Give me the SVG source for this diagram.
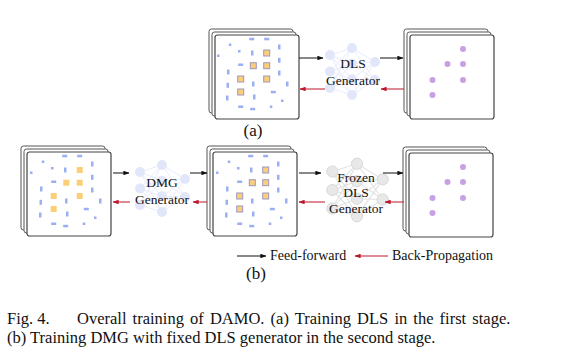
<svg xmlns="http://www.w3.org/2000/svg" xmlns:xlink="http://www.w3.org/1999/xlink" width="567" height="359" viewBox="0 0 567 359">
<style>
text{font-family:"Liberation Serif","Times New Roman",serif;fill:#111}
.lbl{font-size:13.5px;text-anchor:middle}
.frm{fill:#fff;stroke:#555;stroke-width:1}
.ffrm{fill:#fff;stroke:#444;stroke-width:1.2}
.bl{fill:#9bb0f2}
.or{fill:#fbcf78;stroke:#9d97c4;stroke-width:1}
.or2{fill:#fbcf78}
.pu{fill:#c8a0e4}
.fw{stroke:#111;stroke-width:1;fill:none;marker-end:url(#ab)}
.bp{stroke:#c0142a;stroke-width:1;fill:none;marker-end:url(#ar)}
.nl{stroke:#e9ecfb;stroke-width:1}
.nc{fill:#e2e6f9}
.fl{stroke:#e2e2e2;stroke-width:1}
.fc{fill:#e8e8e8;stroke:#d4d4d4;stroke-width:0.8}
</style>
<defs>
<marker id="ab" viewBox="0 0 8 6" refX="7.5" refY="3" markerWidth="6" markerHeight="4.5" markerUnits="userSpaceOnUse" orient="auto"><path d="M0,0L8,3L0,6z" fill="#111"/></marker>
<marker id="ar" viewBox="0 0 8 6" refX="7.5" refY="3" markerWidth="6" markerHeight="4.5" markerUnits="userSpaceOnUse" orient="auto"><path d="M0,0L8,3L0,6z" fill="#c0142a"/></marker>
<g id="stack">
<rect class="frm" x="-6" y="-6" width="84" height="84" rx="2.5"/>
<rect class="frm" x="-3" y="-3" width="84" height="84" rx="2.5"/>
<rect class="ffrm" x="0" y="0" width="84" height="84" rx="2.5"/>
</g>
<g id="dashes">
<rect class="bl" x="34.2" y="2.8" width="5" height="2.5"/>
<rect class="bl" x="49.2" y="2.8" width="5" height="2.5"/>
<rect class="bl" x="23.2" y="28.5" width="5" height="2.5"/>
<rect class="bl" x="55.8" y="55.8" width="5" height="2.5"/>
<rect class="bl" x="23.2" y="70.5" width="5" height="2.5"/>
<rect class="bl" x="35.2" y="72.8" width="5" height="2.5"/>
<rect class="bl" x="63" y="9.5" width="2.5" height="5"/>
<rect class="bl" x="36" y="15.5" width="2.5" height="5"/>
<rect class="bl" x="63" y="22.8" width="2.5" height="5"/>
<rect class="bl" x="12" y="34.5" width="2.5" height="5"/>
<rect class="bl" x="63" y="35.5" width="2.5" height="5"/>
<rect class="bl" x="37" y="46.5" width="2.5" height="5"/>
<rect class="bl" x="71" y="46.5" width="2.5" height="5"/>
<rect class="bl" x="11.5" y="47.8" width="2.5" height="5"/>
<rect class="bl" x="38" y="59.5" width="2.5" height="5"/>
<rect class="bl" x="11" y="60.5" width="2.5" height="5"/>
<rect class="bl" x="13.8" y="8.5" width="2.5" height="2.5"/>
<rect class="bl" x="23" y="15" width="2.5" height="2.5"/>
<rect class="bl" x="2" y="19.5" width="2.5" height="2.5"/>
<rect class="bl" x="66" y="64.5" width="2.5" height="2.5"/>
<rect class="bl" x="54.8" y="70.5" width="2.5" height="2.5"/>
</g>
<g id="sq">
<rect x="48.7" y="15" width="6" height="6"/>
<rect x="35.3" y="27.7" width="6" height="6"/>
<rect x="48.7" y="27.7" width="6" height="6"/>
<rect x="22.7" y="41" width="6" height="6"/>
<rect x="48.7" y="41" width="6" height="6"/>
<rect x="22.7" y="54" width="6" height="6"/>
</g>
<g id="dots">
<circle cx="54" cy="14" r="3"/>
<circle cx="38.5" cy="29" r="3"/>
<circle cx="54" cy="29" r="3"/>
<circle cx="23.5" cy="45" r="3"/>
<circle cx="54" cy="45" r="3"/>
<circle cx="23.5" cy="60" r="3"/>
</g>
<path id="nlines" d="M-22,-16.5L0,-23.5M-22,-16.5L0,-7.8M-22,-16.5L0,7.8M-22,-16.5L0,23.5M-22,0L0,-23.5M-22,0L0,-7.8M-22,0L0,7.8M-22,0L0,23.5M-22,16.5L0,-23.5M-22,16.5L0,-7.8M-22,16.5L0,7.8M-22,16.5L0,23.5M0,-23.5L23,-9.5M0,-7.8L23,-9.5M0,7.8L23,-9.5M0,23.5L23,-9.5M0,-23.5L23,8.5M0,-7.8L23,8.5M0,7.8L23,8.5M0,23.5L23,8.5"/>
<g id="ncirc">
<circle cx="-22" cy="-16.5" r="5"/><circle cx="-22" cy="0" r="5"/><circle cx="-22" cy="16.5" r="5"/>
<circle cx="0" cy="-23.5" r="5"/><circle cx="0" cy="-7.8" r="5"/><circle cx="0" cy="7.8" r="5"/><circle cx="0" cy="23.5" r="5"/>
<circle cx="23" cy="-9.5" r="5"/><circle cx="23" cy="8.5" r="5"/>
</g>
</defs>

<g id="a-input">
<use xlink:href="#stack" x="215" y="35"/>
<use xlink:href="#dashes" x="215" y="35"/>
<use xlink:href="#sq" x="215" y="35" class="or"/>
</g>
<g id="a-dls-generator">
<use xlink:href="#nlines" x="352" y="71.5" class="nl"/>
<use xlink:href="#ncirc" x="352" y="71.5" class="nc"/>
<text class="lbl" x="353" y="68">DLS</text>
<text class="lbl" x="353" y="85">Generator</text>
</g>
<g id="a-output">
<use xlink:href="#stack" x="410" y="35"/>
<use xlink:href="#dots" x="409" y="35" class="pu"/>
</g>
<text x="253" y="136" font-size="17" text-anchor="middle">(a)</text>

<g id="b-input">
<use xlink:href="#stack" x="27" y="152"/>
<use xlink:href="#dashes" x="28" y="152"/>
<use xlink:href="#sq" x="28" y="152" class="or2"/>
</g>
<g id="b-dmg-generator">
<use xlink:href="#nlines" x="162" y="188.5" class="nl"/>
<use xlink:href="#ncirc" x="162" y="188.5" class="nc"/>
<text class="lbl" x="162" y="187">DMG</text>
<text class="lbl" x="162" y="204">Generator</text>
</g>
<g id="b-middle">
<use xlink:href="#stack" x="213" y="152"/>
<use xlink:href="#dashes" x="214" y="152"/>
<use xlink:href="#sq" x="214" y="152" class="or"/>
</g>
<g id="b-frozen-dls-generator">
<g transform="translate(357 190) scale(1.12)">
<use xlink:href="#nlines" class="fl"/>
<use xlink:href="#ncirc" class="fc"/>
</g>
<text class="lbl" x="356" y="182">Frozen</text>
<text class="lbl" x="356" y="197" font-size="9.5">DLS</text>
<text class="lbl" x="356" y="213">Generator</text>
</g>
<g id="b-output">
<use xlink:href="#stack" x="409" y="153"/>
<use xlink:href="#dots" x="409" y="153" class="pu"/>
</g>
<text x="256" y="279" font-size="17" text-anchor="middle">(b)</text>

<g id="connectors">
<line class="fw" x1="299" y1="58" x2="323" y2="58"/>
<line class="fw" x1="380" y1="58" x2="403" y2="58"/>
<line class="bp" x1="325" y1="89" x2="300" y2="89"/>
<line class="bp" x1="404" y1="89" x2="381" y2="89"/>
<line class="fw" x1="113" y1="173" x2="129" y2="173"/>
<line class="fw" x1="190" y1="173" x2="207" y2="173"/>
<line class="fw" x1="299" y1="173" x2="321" y2="173"/>
<line class="fw" x1="383" y1="173" x2="403" y2="173"/>
<line class="bp" x1="130" y1="202" x2="113" y2="202"/>
<line class="bp" x1="207" y1="202" x2="193" y2="202"/>
<line class="bp" x1="325" y1="202" x2="299" y2="202"/>
<line class="bp" x1="404" y1="202" x2="385" y2="202"/>
</g>

<g id="legend">
<line class="fw" x1="237" y1="256" x2="266" y2="256"/>
<text x="270" y="260" font-size="14">Feed-forward</text>
<line class="bp" x1="388" y1="256" x2="355" y2="256"/>
<text x="392" y="260" font-size="14">Back-Propagation</text>
</g>

<g id="caption" font-size="16.5">
<text x="7" y="324">Fig. 4.</text>
<text x="77" y="324" word-spacing="2">Overall training of DAMO. (a) Training DLS in the first stage.</text>
<text x="7" y="343">(b) Training DMG with fixed DLS generator in the second stage.</text>
</g>
</svg>
